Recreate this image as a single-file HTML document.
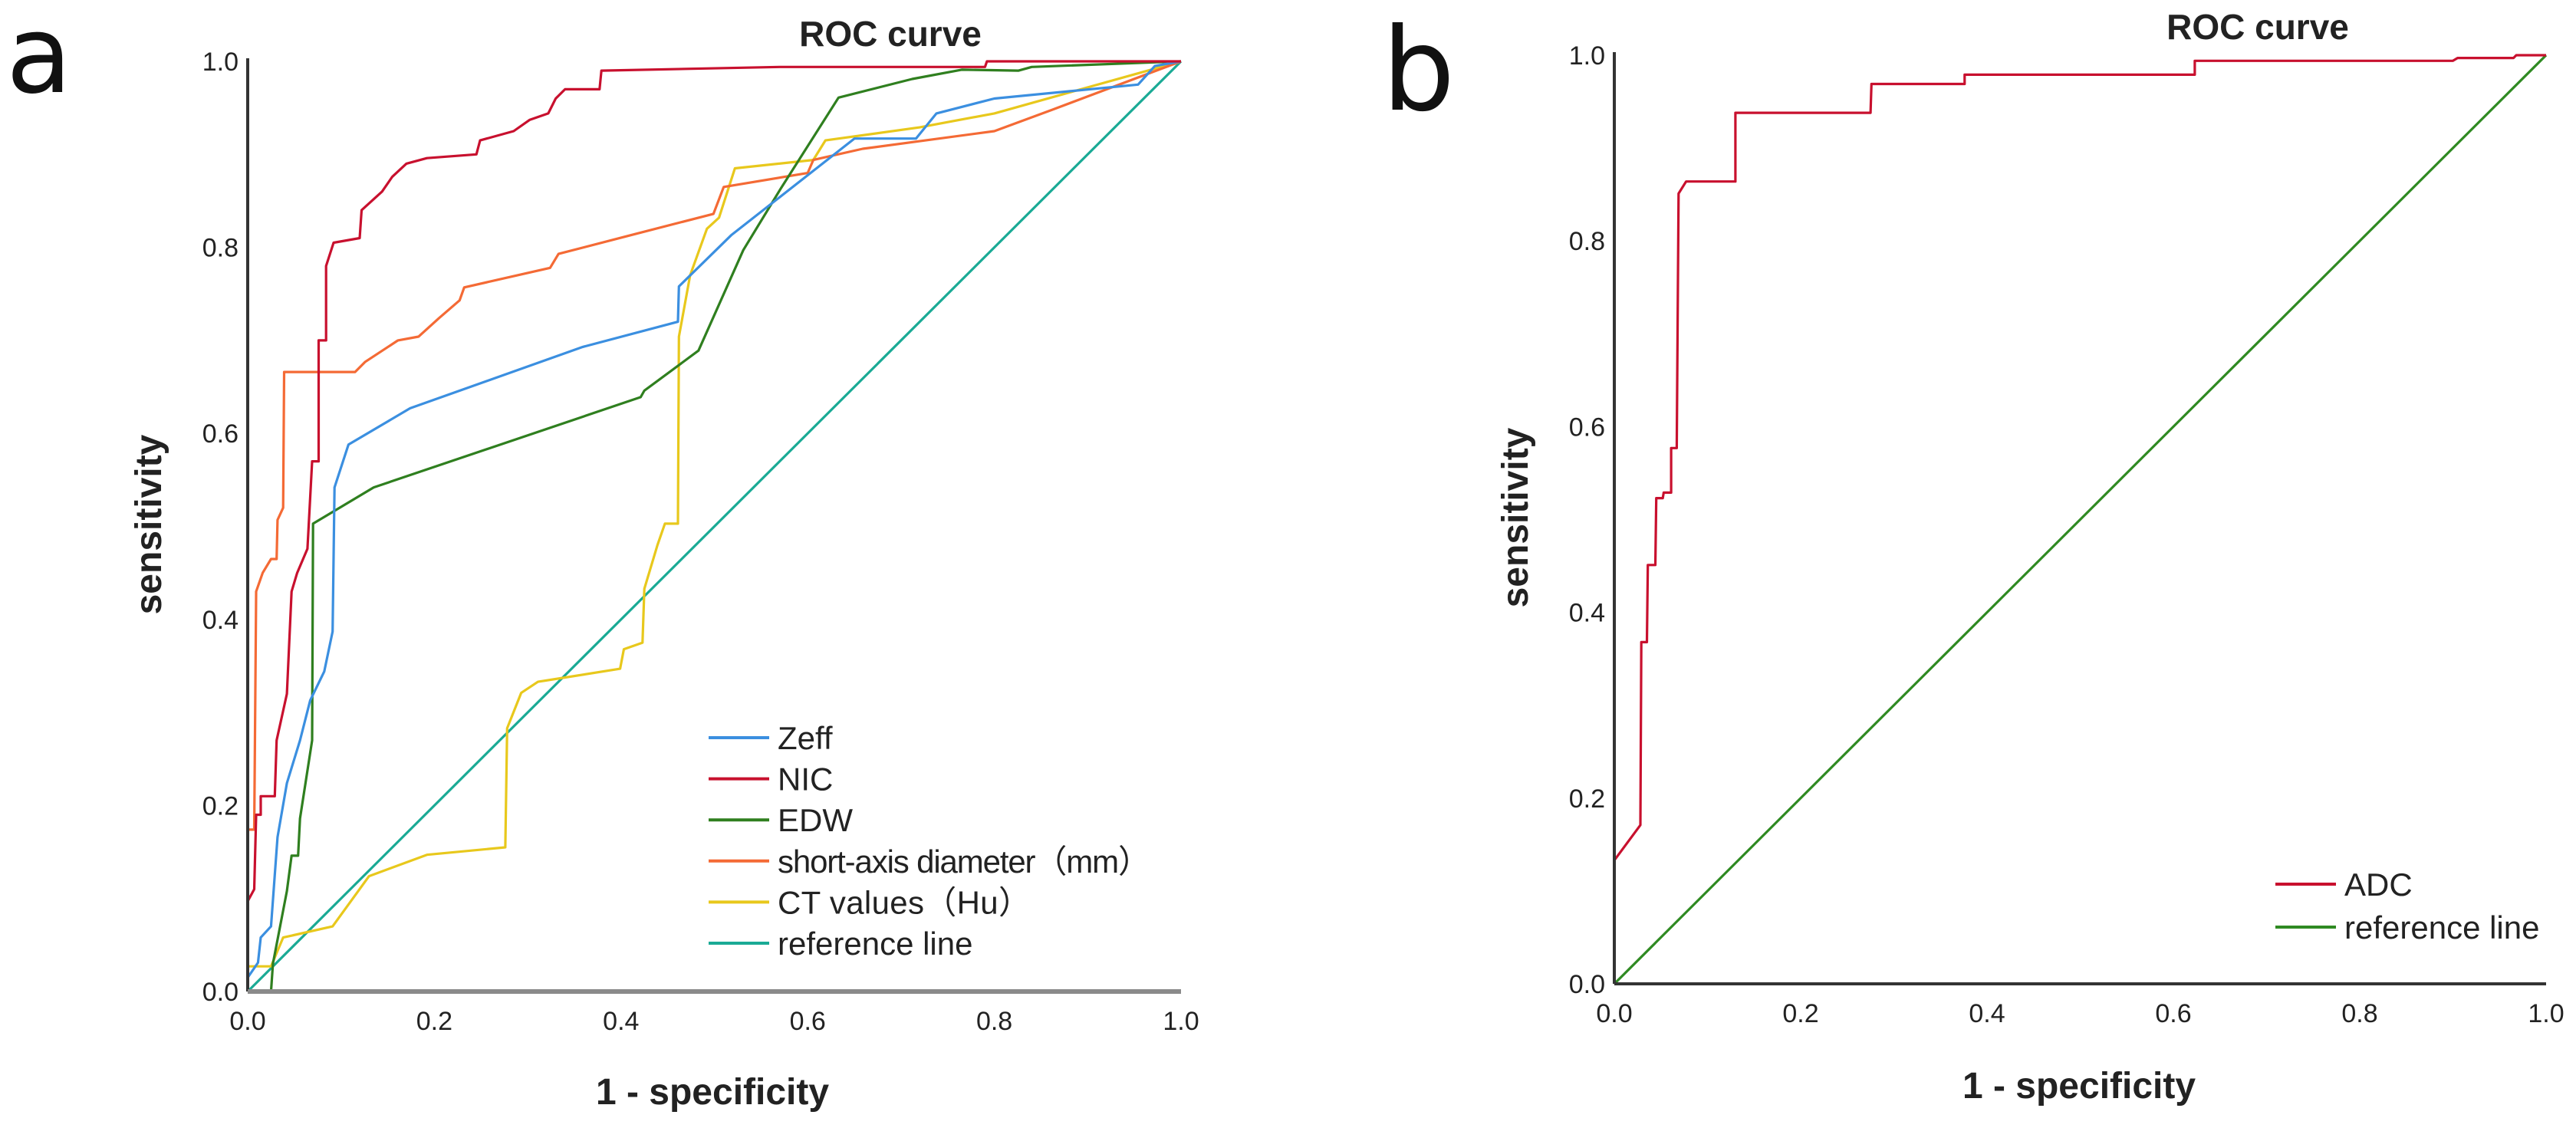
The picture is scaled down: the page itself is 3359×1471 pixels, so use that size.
<!DOCTYPE html>
<html><head><meta charset="utf-8"><style>
html,body{margin:0;padding:0;background:#fff}
svg{display:block}
text{font-family:"Liberation Sans","Noto Sans CJK SC",sans-serif;fill:#222}
</style></head><body>
<svg id="fig" width="3359" height="1471" viewBox="0 0 3359 1471" xmlns="http://www.w3.org/2000/svg">
<text x="8" y="120" style="font-family:'DejaVu Sans',sans-serif;font-size:140px;fill:#111">a</text>
<text x="1802" y="143" style="font-family:'DejaVu Sans',sans-serif;font-size:150px;fill:#111">b</text>
<g id="pa"></g>
<g id="pb"></g>
</svg>
<script>
const ticks = [0, 0.2, 0.4, 0.6, 0.8, 1.0];
const tickLabels = ["0.0","0.2","0.4","0.6","0.8","1.0"];
// Panel a series (x = 1-specificity, y = sensitivity)
const zeffX = [0,0,0.011,0.014,0.025,0.032,0.042,0.056,0.067,0.082,0.091,0.093,0.108,0.174,0.359,0.461,0.462,0.518,0.65,0.716,0.738,0.80,0.954,0.972,1];
const zeffY = [0,0.015,0.031,0.058,0.07,0.166,0.224,0.27,0.313,0.344,0.387,0.542,0.588,0.627,0.693,0.72,0.758,0.813,0.917,0.917,0.944,0.96,0.975,0.995,1];
const nicX = [0,0,0.007,0.009,0.014,0.014,0.029,0.031,0.042,0.047,0.053,0.064,0.069,0.076,0.076,0.084,0.084,0.092,0.12,0.122,0.144,0.155,0.17,0.192,0.245,0.249,0.285,0.302,0.322,0.33,0.34,0.377,0.379,0.57,0.79,0.792,1];
const nicY = [0,0.097,0.11,0.19,0.19,0.21,0.21,0.27,0.32,0.43,0.45,0.476,0.57,0.57,0.70,0.70,0.78,0.805,0.81,0.84,0.86,0.876,0.89,0.896,0.90,0.915,0.925,0.937,0.944,0.96,0.97,0.97,0.99,0.994,0.994,1,1];
const edwX = [0,0.025,0.027,0.042,0.047,0.054,0.056,0.069,0.07,0.135,0.421,0.425,0.483,0.531,0.571,0.633,0.712,0.765,0.826,0.84,1];
const edwY = [0,0,0.03,0.108,0.146,0.146,0.186,0.27,0.503,0.542,0.639,0.646,0.689,0.797,0.863,0.961,0.981,0.991,0.99,0.994,1];
const sadX = [0,0,0.007,0.009,0.016,0.025,0.031,0.032,0.038,0.039,0.115,0.126,0.161,0.183,0.205,0.227,0.232,0.324,0.333,0.41,0.499,0.51,0.60,0.606,0.659,0.80,0.862,1];
const sadY = [0,0.174,0.174,0.43,0.45,0.465,0.465,0.507,0.52,0.666,0.666,0.677,0.70,0.704,0.724,0.743,0.757,0.778,0.793,0.813,0.836,0.865,0.88,0.894,0.906,0.925,0.948,1];
const ctX = [0,0,0.025,0.038,0.091,0.13,0.192,0.276,0.278,0.293,0.311,0.399,0.403,0.423,0.425,0.439,0.447,0.461,0.462,0.474,0.492,0.505,0.522,0.606,0.619,0.72,0.80,1];
const ctY = [0,0.027,0.027,0.058,0.07,0.124,0.147,0.155,0.283,0.321,0.333,0.347,0.368,0.375,0.433,0.48,0.503,0.503,0.704,0.77,0.82,0.832,0.885,0.894,0.915,0.929,0.944,1];
const refX = [0,1];
const refY = [0,1];
// Panel b
const adcX = [0,0,0.028,0.029,0.035,0.036,0.044,0.045,0.052,0.053,0.061,0.061,0.067,0.069,0.077,0.13,0.13,0.275,0.276,0.376,0.376,0.623,0.623,0.90,0.905,0.965,0.968,1];
const adcY = [0,0.133,0.171,0.368,0.368,0.451,0.451,0.523,0.523,0.529,0.529,0.577,0.577,0.851,0.864,0.864,0.938,0.938,0.969,0.969,0.979,0.979,0.994,0.994,0.997,0.997,1,1];

const NS = "http://www.w3.org/2000/svg";
function mk(parent, tag, attrs){const e=document.createElementNS(NS,tag);for(const k in attrs)e.setAttribute(k,attrs[k]);parent.appendChild(e);return e;}

function panel(g, P, series, legend, opts){
  const sx=v=>P.x0+v*(P.x1-P.x0), sy=v=>P.y0-v*(P.y0-P.y1);
  // title
  let t=mk(g,"text",{x:opts.titleX,y:opts.titleY,"text-anchor":"middle","font-size":"46","font-weight":"bold"});
  t.textContent="ROC curve";
  
  
  // series
  series.forEach(s=>{
    const d=s.x.map((v,i)=>(i?"L":"M")+sx(v).toFixed(1)+","+sy(s.y[i]).toFixed(1)).join("");
    const p=mk(g,"path",{d:d,fill:"none",stroke:s.color,"stroke-width":3.2,"stroke-linejoin":"round"});
    
    
  });
  // axes
  const ya=mk(g,"line",{x1:P.x0,y1:P.y0,x2:P.x0,y2:P.y1-4,stroke:"#333","stroke-width":4});
  
  
  const xa=mk(g,"line",{x1:P.x0,y1:P.y0,x2:P.x1,y2:P.y0,stroke:opts.xAxisColor,"stroke-width":opts.xAxisW});
  
  
  ticks.forEach((v,i)=>{
    const a=mk(g,"text",{x:P.x0-12,y:sy(v)+12,"text-anchor":"end","font-size":"34"});
    a.textContent=tickLabels[i];
    
    
    const b=mk(g,"text",{x:sx(v),y:P.y0+50,"text-anchor":"middle","font-size":"34"});
    b.textContent=tickLabels[i];
    
    
  });
  const xt=mk(g,"text",{x:opts.xtX,y:opts.xtY,"text-anchor":"middle","font-size":"48","font-weight":"bold"});
  xt.textContent="1 - specificity";
  
  
  const yt=mk(g,"text",{x:0,y:0,"text-anchor":"middle","font-size":"48","font-weight":"bold",transform:`translate(${opts.ytX},${opts.ytY}) rotate(-90)`});
  yt.textContent="sensitivity";
  
  
  // legend
  const lg=mk(g,"g",{});
  
  
  legend.forEach((s,i)=>{
    const y=opts.legY+i*opts.legDy;
    const ln=mk(lg,"line",{x1:opts.legX,x2:opts.legX+79,y1:y,y2:y,stroke:s.color,"stroke-width":4});
    
    
    const tx=mk(lg,"text",{x:opts.legX+90,y:y+15,"font-size":"42"});
    tx.textContent=s.label;
    if(s.len) tx.setAttribute("textLength",s.len);
    
    
  });
}

const A={x0:323,x1:1540,y0:1293,y1:80};
const seriesA=[
 {name:"reference-line",x:refX,y:refY,color:"#1aaa95",label:"reference line"},
 {name:"ct-values",x:ctX,y:ctY,color:"#e8c81c",label:"CT values（Hu）",len:330},
 {name:"short-axis-diameter",x:sadX,y:sadY,color:"#f46a35",label:"short-axis diameter（mm）",len:486},
 {name:"edw",x:edwX,y:edwY,color:"#2f7f1f",label:"EDW"},
 {name:"zeff",x:zeffX,y:zeffY,color:"#3b8fe0",label:"Zeff"},
 {name:"nic",x:nicX,y:nicY,color:"#c8102e",label:"NIC"}
];
const legA=[seriesA[4],seriesA[5],seriesA[3],seriesA[2],seriesA[1],seriesA[0]];
panel(document.getElementById("pa"),A,seriesA,legA,{titleX:1161,titleY:60,xtX:929,xtY:1440,ytX:210,ytY:684,xAxisColor:"#8a8a8a",xAxisW:6,legX:924,legY:962,legDy:53.6});

const B={x0:2105,x1:3320,y0:1283,y1:72};
const seriesB=[
 {name:"reference-line",x:refX,y:refY,color:"#2f8a22",label:"reference line"},
 {name:"adc",x:adcX,y:adcY,color:"#c8102e",label:"ADC"}
];
panel(document.getElementById("pb"),B,seriesB,[seriesB[1],seriesB[0]],{titleX:2944,titleY:51,xtX:2711,xtY:1432,ytX:1992,ytY:675,xAxisColor:"#333",xAxisW:4,legX:2967,legY:1153,legDy:56});
</script>
</body></html>
